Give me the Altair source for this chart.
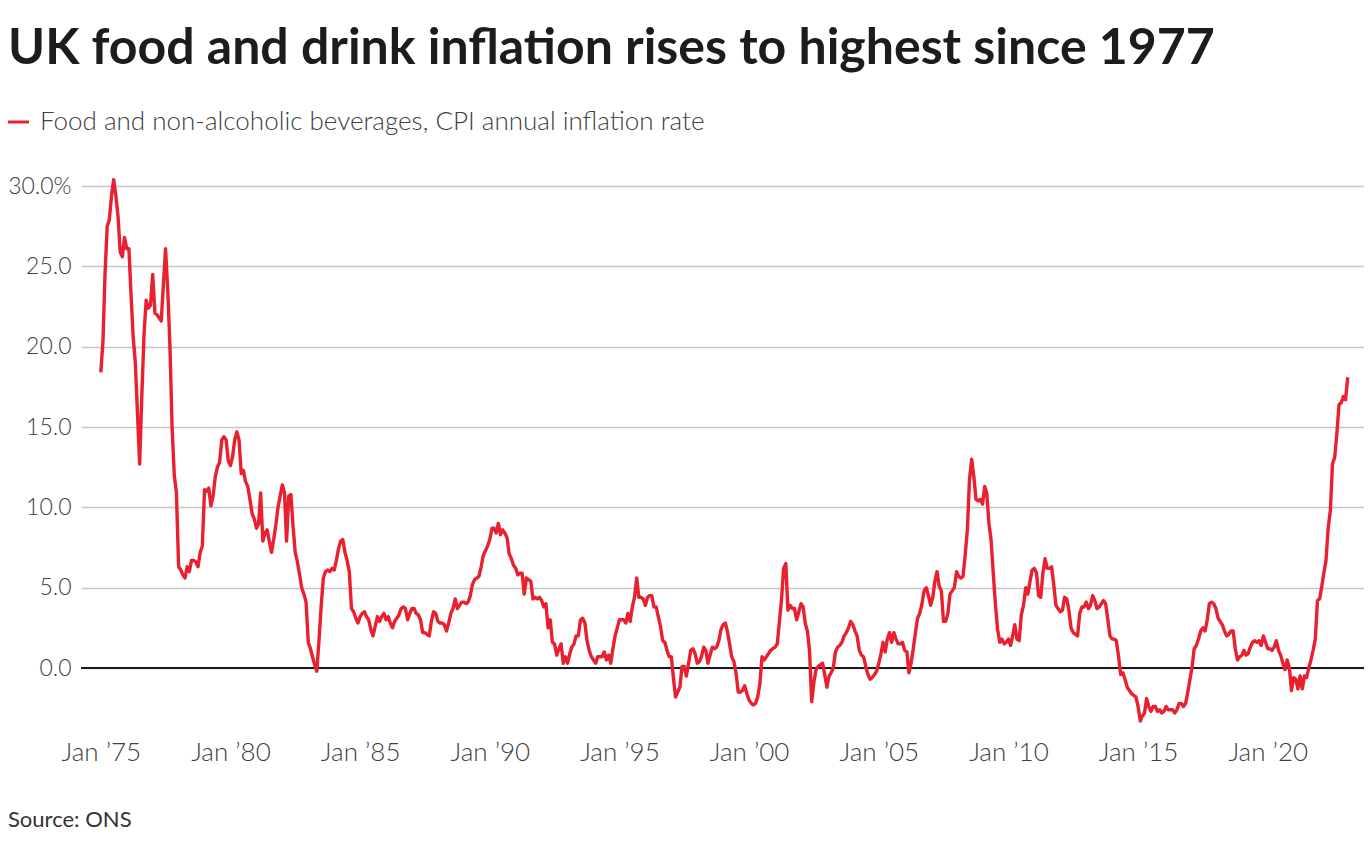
import altair as alt
import pandas as pd

TITLE = "UK food and drink inflation rises to highest since 1977"
SERIES = "Food and non-alcoholic beverages, CPI annual inflation rate"
SOURCE = "Source: ONS"

TICK_YEARS = [1975, 1980, 1985, 1990, 1995, 2000, 2005, 2010, 2015, 2020]
Y_TICKS = [0, 5, 10, 15, 20, 25, 30]

# Monthly annual rate (%), Jan 1975 - Feb 2023
y1975 = [18.4, 20.4, 24.5, 27.5, 27.9, 29.4, 30.4, 29.4, 28.1, 25.9, 25.6, 26.8]
y1976 = [26.1, 26.1, 23.3, 20.6, 19.0, 15.8, 12.7, 17.0, 20.8, 22.9, 22.4, 22.6]
y1977 = [24.5, 22.1, 22.0, 21.8, 21.6, 23.9, 26.1, 23.5, 20.0, 15.0, 12.0, 10.9]
y1978 = [6.3, 6.1, 5.8, 5.6, 6.3, 6.0, 6.7, 6.7, 6.6, 6.3, 7.2, 7.6]
y1979 = [11.1, 11.0, 11.2, 10.1, 10.7, 11.9, 12.5, 12.8, 14.2, 14.4, 14.2, 12.9]
y1980 = [12.6, 13.2, 14.2, 14.7, 14.2, 12.1, 12.3, 11.6, 11.3, 10.5, 9.6, 9.3]
y1981 = [8.7, 9.0, 10.9, 7.9, 8.4, 8.6, 7.9, 7.2, 8.0, 8.9, 10.0, 10.7]
y1982 = [11.4, 10.9, 7.9, 10.7, 10.8, 8.8, 7.2, 6.6, 5.8, 5.0, 4.6, 4.1]
y1983 = [1.6, 1.2, 0.7, 0.2, -0.2, 1.7, 3.8, 5.6, 6.0, 6.1, 6.0, 6.2]
y1984 = [6.1, 6.7, 7.4, 7.9, 8.0, 7.2, 6.7, 6.0, 3.7, 3.5, 3.1, 2.8]
y1985 = [3.2, 3.4, 3.5, 3.2, 3.0, 2.4, 2.0, 2.6, 3.2, 2.9, 3.2, 3.4]
y1986 = [3.0, 3.2, 2.8, 2.5, 2.9, 3.1, 3.3, 3.7, 3.8, 3.7, 3.0, 3.4]
y1987 = [3.7, 3.7, 3.4, 3.3, 3.0, 2.2, 2.2, 2.1, 2.0, 2.9, 3.5, 3.4]
y1988 = [2.9, 2.8, 2.8, 2.7, 2.3, 2.8, 3.4, 3.7, 4.3, 3.7, 3.9, 4.1]
y1989 = [4.1, 4.0, 4.1, 4.5, 5.2, 5.5, 5.6, 5.7, 6.3, 7.0, 7.3, 7.6]
y1990 = [8.0, 8.7, 8.7, 8.4, 9.0, 8.3, 8.6, 8.4, 8.1, 7.1, 6.8, 6.4]
y1991 = [6.2, 5.8, 5.9, 5.9, 4.6, 5.6, 5.5, 5.4, 4.3, 4.4, 4.3, 4.4]
y1992 = [4.2, 3.8, 4.0, 2.5, 3.0, 1.6, 1.5, 0.8, 1.2, 1.5, 0.3, 0.7]
y1993 = [0.3, 0.9, 1.3, 1.5, 2.0, 2.0, 3.0, 3.1, 2.8, 1.7, 1.1, 0.7]
y1994 = [0.5, 0.3, 0.7, 0.7, 0.7, 1.0, 0.5, 0.8, 0.3, 1.2, 2.0, 2.5]
y1995 = [3.0, 3.0, 3.0, 2.8, 3.4, 2.9, 3.8, 4.4, 5.6, 4.4, 4.4, 4.3]
y1996 = [3.9, 4.4, 4.5, 4.5, 3.8, 3.8, 3.2, 2.6, 1.7, 1.6, 1.1, 0.7]
y1997 = [0.7, -0.7, -1.8, -1.5, -1.2, 0.1, 0.1, -0.5, 0.3, 1.1, 1.2, 0.9]
y1998 = [0.3, 0.4, 0.7, 1.3, 1.1, 0.3, 0.8, 1.3, 1.2, 1.3, 1.7, 2.4]
y1999 = [2.7, 2.8, 2.3, 1.5, 0.7, 0.4, -0.3, -1.5, -1.5, -1.4, -1.1, -1.6]
y2000 = [-2.0, -2.2, -2.3, -2.2, -1.8, -1.0, 0.7, 0.5, 0.7, 0.9, 1.1, 1.2]
y2001 = [1.3, 1.5, 2.8, 4.2, 6.2, 6.5, 3.6, 3.9, 3.7, 3.7, 3.0, 3.5]
y2002 = [4.0, 3.8, 2.8, 2.3, 1.1, -2.1, -0.9, -0.1, 0.1, 0.2, 0.3, -0.4]
y2003 = [-1.2, -0.5, -0.3, 0.0, 1.0, 1.3, 1.4, 1.6, 2.0, 2.2, 2.5, 2.9]
y2004 = [2.7, 2.3, 2.0, 1.1, 0.8, 0.7, 0.1, -0.4, -0.7, -0.6, -0.4, -0.2]
y2005 = [0.3, 0.9, 1.6, 1.0, 1.8, 2.2, 1.6, 2.2, 1.8, 1.5, 1.5, 1.6]
y2006 = [1.1, 1.0, -0.3, 0.3, 1.2, 2.2, 3.1, 3.4, 4.0, 4.8, 5.0, 4.5]
y2007 = [3.9, 4.4, 5.4, 6.0, 5.1, 4.8, 2.9, 2.9, 3.4, 4.6, 4.8, 5.0]
y2008 = [6.0, 5.7, 5.6, 5.7, 7.0, 8.6, 11.7, 13.0, 11.9, 10.5, 10.4, 10.5]
y2009 = [10.2, 11.3, 10.9, 9.0, 8.0, 5.9, 4.0, 2.4, 1.6, 1.8, 1.5, 1.6]
y2010 = [1.8, 1.4, 2.0, 2.7, 1.8, 1.7, 3.3, 3.9, 5.0, 4.6, 5.4, 6.1]
y2011 = [6.2, 5.9, 4.5, 4.4, 5.9, 6.8, 6.2, 6.2, 6.3, 5.2, 3.9, 3.7]
y2012 = [3.5, 3.6, 4.4, 4.3, 3.6, 2.5, 2.2, 2.1, 2.0, 3.4, 3.8, 3.8]
y2013 = [4.1, 3.7, 3.9, 4.5, 4.2, 3.7, 3.8, 4.0, 4.2, 4.0, 3.0, 2.0]
y2014 = [1.8, 1.8, 1.7, 0.7, -0.4, -0.3, -0.7, -1.2, -1.4, -1.6, -1.7, -1.8]
y2015 = [-2.4, -3.3, -3.0, -2.8, -1.9, -2.4, -2.7, -2.4, -2.4, -2.7, -2.6, -2.8]
y2016 = [-2.7, -2.4, -2.6, -2.6, -2.6, -2.8, -2.6, -2.2, -2.2, -2.4, -2.2, -1.5]
y2017 = [-0.7, 0.1, 1.2, 1.4, 1.8, 2.3, 2.5, 2.3, 3.0, 4.0, 4.1, 4.0]
y2018 = [3.7, 3.1, 2.9, 2.7, 2.3, 2.0, 2.1, 2.3, 2.3, 1.2, 0.5, 0.7]
y2019 = [0.8, 1.1, 0.8, 0.9, 1.3, 1.6, 1.7, 1.6, 1.7, 1.4, 2.0, 1.6]
y2020 = [1.2, 1.2, 1.1, 1.3, 1.7, 1.1, 0.8, 0.3, -0.1, 0.5, 0.0, -1.4]
y2021 = [-0.6, -0.7, -1.3, -0.5, -1.3, -0.5, -0.6, 0.0, 0.5, 1.1, 1.8, 4.2]
y2022 = [4.3, 5.1, 5.9, 6.7, 8.7, 9.8, 12.7, 13.1, 14.6, 16.4, 16.5, 16.9]
y2023 = [16.7, 18.1]

YEARS = [
    (1975, y1975), (1976, y1976), (1977, y1977), (1978, y1978), (1979, y1979),
    (1980, y1980), (1981, y1981), (1982, y1982), (1983, y1983), (1984, y1984),
    (1985, y1985), (1986, y1986), (1987, y1987), (1988, y1988), (1989, y1989),
    (1990, y1990), (1991, y1991), (1992, y1992), (1993, y1993), (1994, y1994),
    (1995, y1995), (1996, y1996), (1997, y1997), (1998, y1998), (1999, y1999),
    (2000, y2000), (2001, y2001), (2002, y2002), (2003, y2003), (2004, y2004),
    (2005, y2005), (2006, y2006), (2007, y2007), (2008, y2008), (2009, y2009),
    (2010, y2010), (2011, y2011), (2012, y2012), (2013, y2013), (2014, y2014),
    (2015, y2015), (2016, y2016), (2017, y2017), (2018, y2018), (2019, y2019),
    (2020, y2020), (2021, y2021), (2022, y2022), (2023, y2023),
]

rows = []
for year, vals in YEARS:
    for i, v in enumerate(vals):
        rows.append({"date": f"{year}-{i + 1:02d}-01", "value": v})
df = pd.DataFrame(rows)

RED = "#e8202f"
FONT = "Lato"
W, H = 1283, 556
PAD = {"left": 73, "top": 162, "right": 0, "bottom": 108}

x_enc = alt.X(
    "date:T",
    title=None,
    scale=alt.Scale(
        type="utc",
        domain=[alt.DateTime(year=1974, month=3, date=28, utc=True),
                alt.DateTime(year=2023, month=9, date=18, utc=True)],
    ),
    axis=alt.Axis(
        values=[alt.DateTime(year=y, month=1, date=1, utc=True) for y in TICK_YEARS],
        labelExpr="'Jan \u2019' + utcFormat(datum.value, '%y')",
        grid=False, domain=False, ticks=False, tickSize=0,
        labelPadding=13, labelFlush=False, labelOverlap=False,
        labelFont=FONT, labelFontSize=26, labelFontWeight=300, labelColor="#404040",
    ),
)
y_enc = alt.Y(
    "value:Q",
    title=None,
    scale=alt.Scale(domain=[-3.61, 31.0], nice=False, zero=False),
    axis=alt.Axis(
        values=Y_TICKS,
        labelExpr="datum.value == 30 ? format(datum.value, '.1f') + '%' : format(datum.value, '.1f')",
        grid=True, gridColor="#c6c6c6", gridWidth=1.3,
        domain=False, ticks=False, tickSize=0, labelPadding=10,
        labelFont=FONT, labelFontSize=23, labelFontWeight=300, labelColor="#404040",
    ),
)

line = alt.Chart(df).mark_line(color=RED, strokeWidth=3.4, strokeJoin="round").encode(x=x_enc, y=y_enc)

zero = alt.Chart(pd.DataFrame({"v": [0]})).mark_rule(color="#1a1a1a", strokeWidth=2).encode(y="v:Q")

legend_line = alt.Chart(pd.DataFrame({"s": [SERIES]})).mark_rule(color=RED, strokeWidth=3).encode(
    x=alt.value(-73), x2=alt.value(-52), y=alt.value(-48)
)
legend_text = alt.Chart(pd.DataFrame({"s": [SERIES]})).mark_text(
    align="left", baseline="middle", font=FONT, fontSize=26, fontWeight=300, color="#404040"
).encode(x=alt.value(-41), y=alt.value(-48), text="s:N")

source_text = alt.Chart(pd.DataFrame({"s": [SOURCE]})).mark_text(
    align="left", baseline="middle", font=FONT, fontSize=22, fontWeight=400, color="#333333"
).encode(x=alt.value(-73), y=alt.value(650), text="s:N")

chart = alt.layer(zero, line, legend_line, legend_text, source_text).properties(
    width=W,
    height=H,
    padding=PAD,
    autosize=alt.AutoSizeParams(type="none"),
    title=alt.Title(
        TITLE, anchor="start", frame="group", dx=-73, dy=5, baseline="alphabetic",
        offset=0, font=FONT, fontSize=50, fontWeight="bold", color="#1c1c1c",
    ),
).configure_view(stroke=None)

chart.save("out.html", embed_options={"renderer": "svg", "actions": False})
